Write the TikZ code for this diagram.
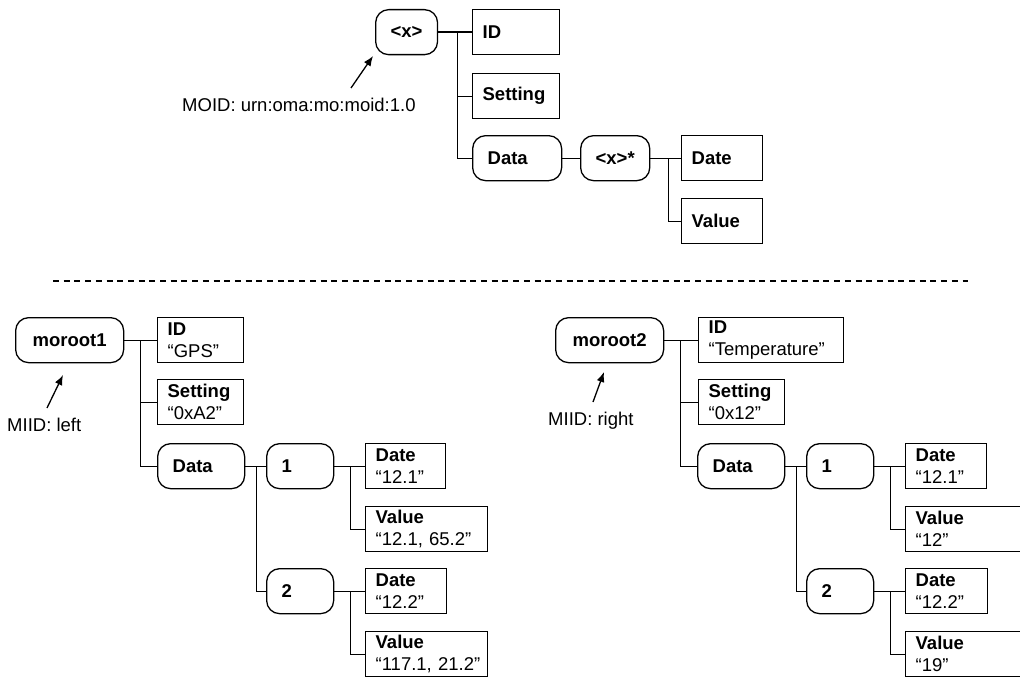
\documentclass[tikz,border=0pt]{standalone}
\usepackage{fontspec}
\setmainfont{Liberation Sans}
\usetikzlibrary{positioning, arrows.meta}

\tikzset{
  leaf/.style={draw, rectangle, anchor=north west, minimum height=45pt,
    inner xsep=10pt, inner ysep=2pt, align=left, line width=1.3pt},
  inner/.style={draw, rounded corners=13pt, anchor=north west, minimum height=45pt,
    inner xsep=15pt, inner ysep=2pt, align=left, line width=1.3pt,
    font=\fontsize{18.5}{22}\selectfont\bfseries},
  link/.style={line width=1.3pt},
  pointer/.style={line width=1.3pt, -{Latex[length=10pt, width=8pt]}},
  lbl/.style={anchor=base west, inner sep=0pt}
}

\begin{document}
\begin{tikzpicture}[x=1pt, y=-1pt, every node/.style={font=\fontsize{18.5}{22}\selectfont}]
      \useasboundingbox (0,0) rectangle (1020,677);
      % Object model (template)
      \node[inner, align=center, minimum width=61pt] (xroot) at (375,9) {<x>};
      \node[leaf, text width=67pt] (topid) at (472,9) {\textbf{ID}};
      \node[leaf, text width=67pt] (topset) at (472,73) {\textbf{Setting}};
      \node[inner, text width=59pt] (topdata) at (472,135) {Data};
      \node[inner, align=center, minimum width=68pt] (xstar) at (580,135) {<x>*};
      \node[leaf, text width=61pt] (topdate) at (681,135) {\textbf{Date}};
      \node[leaf, text width=61pt] (topval) at (681,198) {\textbf{Value}};
      \node[lbl] (moid) at (182,111) {MOID: urn:oma:mo:moid:1.0};
      \coordinate (moidtail) at (351,88);
      \coordinate (moidtip) at (373,56);
      % Connect nodes
      \foreach \c in {topid, topset, topdata}
        \draw[link] (xroot.east) -- ++(19,0) |- (\c.west);
      \draw[link] (topdata.east) -- (xstar.west);
      \foreach \c in {topdate, topval}
        \draw[link] (xstar.east) -- ++(18,0) |- (\c.west);
      \draw[pointer] (moidtail) -- (moidtip);

      % Separator
      \draw[line width=1.3pt, dash pattern=on 6pt off 4.7pt] (53,281) -- (968,281);

      % Instance: moroot1
      \node[inner, align=center, minimum width=108pt] (root1) at (15,317) {moroot1};
      \node[leaf, text width=66pt] (id1) at (157,317) {\textbf{ID}\\``GPS''};
      \node[leaf, text width=66pt] (set1) at (157,379) {\textbf{Setting}\\``0xA2''};
      \node[inner, text width=57pt] (data1) at (157,443) {Data};
      \node[inner, text width=37pt] (one1) at (266,443) {1};
      \node[inner, text width=37pt] (two1) at (266,568) {2};
      \node[leaf, text width=60pt] (date11) at (365,443) {\textbf{Date}\\``12.1''};
      \node[leaf, text width=102pt] (val11) at (365,506) {\textbf{Value}\\\mbox{``12.1, 65.2''}};
      \node[leaf, text width=61pt] (date12) at (365,568) {\textbf{Date}\\``12.2''};
      \node[leaf, text width=102pt] (val12) at (365,631) {\textbf{Value}\\\mbox{``117.1, 21.2''}};
      \node[lbl] (miid1) at (7,431) {MIID: left};
      \coordinate (miid1tail) at (47,408);
      \coordinate (miid1tip) at (63,375);
      % Connect nodes
      \foreach \c in {id1, set1, data1}
        \draw[link] (root1.east) -- ++(16,0) |- (\c.west);
      \foreach \c in {one1, two1}
        \draw[link] (data1.east) -- ++(11,0) |- (\c.west);
      \foreach \c in {date11, val11}
        \draw[link] (one1.east) -- ++(16,0) |- (\c.west);
      \foreach \c in {date12, val12}
        \draw[link] (two1.east) -- ++(16,0) |- (\c.west);
      \draw[pointer] (miid1tail) -- (miid1tip);

      % Instance: moroot2
      \node[inner, align=center, minimum width=108pt] (root2) at (555,317) {moroot2};
      \node[leaf, text width=125pt] (id2) at (698,317) {\textbf{ID}\\``Temperature''};
      \node[leaf, text width=66pt] (set2) at (698,379) {\textbf{Setting}\\``0x12''};
      \node[inner, text width=57pt] (data2) at (697,443) {Data};
      \node[inner, text width=37pt] (one2) at (806,443) {1};
      \node[inner, text width=37pt] (two2) at (806,568) {2};
      \node[leaf, text width=61pt] (date21) at (905,443) {\textbf{Date}\\``12.1''};
      \node[leaf, text width=102pt] (val21) at (905,506) {\textbf{Value}\\``12''};
      \node[leaf, text width=62pt] (date22) at (905,568) {\textbf{Date}\\``12.2''};
      \node[leaf, text width=102pt] (val22) at (905,631) {\textbf{Value}\\``19''};
      \node[lbl] (miid2) at (548,425) {MIID: right};
      \coordinate (miid2tail) at (593,402);
      \coordinate (miid2tip) at (604,372);
      % Connect nodes
      \foreach \c in {id2, set2, data2}
        \draw[link] (root2.east) -- ++(16,0) |- (\c.west);
      \foreach \c in {one2, two2}
        \draw[link] (data2.east) -- ++(11,0) |- (\c.west);
      \foreach \c in {date21, val21}
        \draw[link] (one2.east) -- ++(16,0) |- (\c.west);
      \foreach \c in {date22, val22}
        \draw[link] (two2.east) -- ++(16,0) |- (\c.west);
      \draw[pointer] (miid2tail) -- (miid2tip);
    \end{tikzpicture}
\end{document}
